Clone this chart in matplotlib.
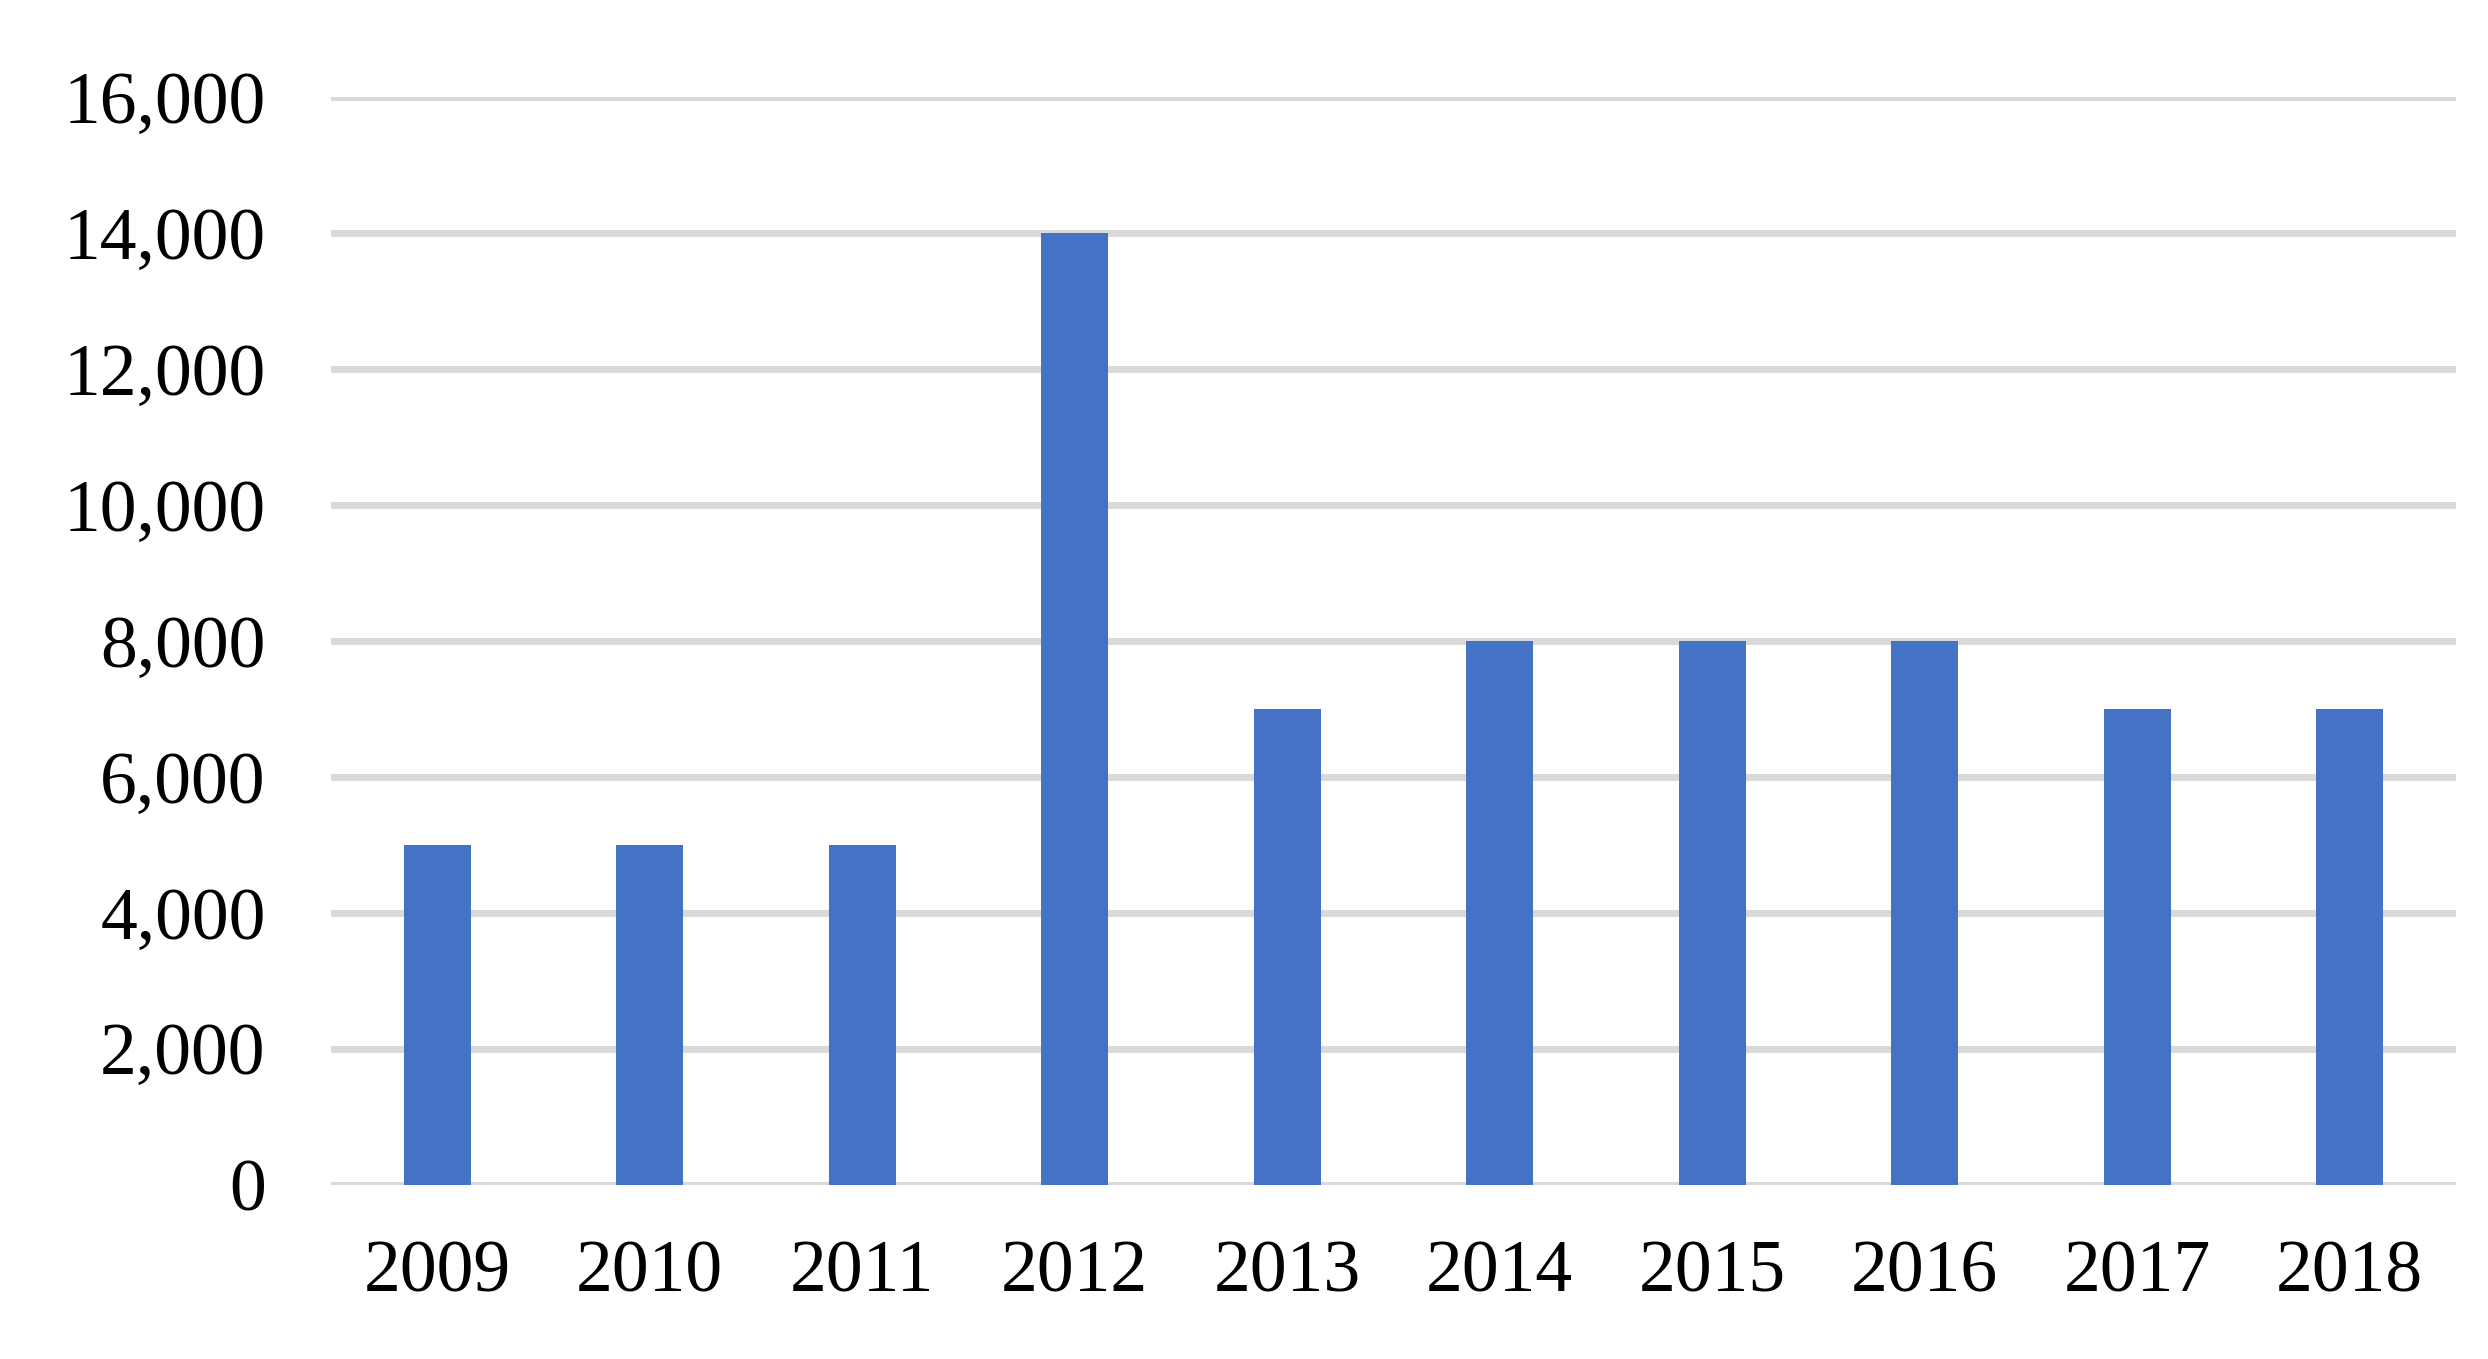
import matplotlib
matplotlib.use("Agg")
import matplotlib.pyplot as plt
from matplotlib.ticker import FuncFormatter

years = ["2009", "2010", "2011", "2012", "2013", "2014", "2015", "2016", "2017", "2018"]
values = [5000, 5000, 5000, 14000, 7000, 8000, 8000, 8000, 7000, 7000]
y_ticks = [0, 2000, 4000, 6000, 8000, 10000, 12000, 14000, 16000]

plt.rcParams['font.family'] = ['Liberation Serif', 'DejaVu Serif']

fig = plt.figure(figsize=(24.88, 13.59), dpi=100)
ax = fig.add_axes([0.133, 0.1284, 0.8541, 0.7999])

x = range(len(years))
ax.bar(x, values, width=0.315, color="#4472C4", zorder=3)

ax.set_xlim(-0.5, len(years) - 0.5)
ax.set_ylim(0, 16000)
ax.set_yticks(y_ticks)
ax.yaxis.set_major_formatter(FuncFormatter(lambda v, p: f"{int(v):,}"))
ax.set_xticks(list(x))
ax.set_xticklabels(years)

ax.grid(axis="y", color="#d9d9d9", linewidth=5, zorder=0)
ax.set_axisbelow(True)
for s in ax.spines.values():
    s.set_visible(False)
ax.tick_params(axis="both", length=0, labelsize=53)
ax.tick_params(axis="y", pad=47)
ax.tick_params(axis="x", pad=40)

fig.savefig("out.png", dpi=100)
